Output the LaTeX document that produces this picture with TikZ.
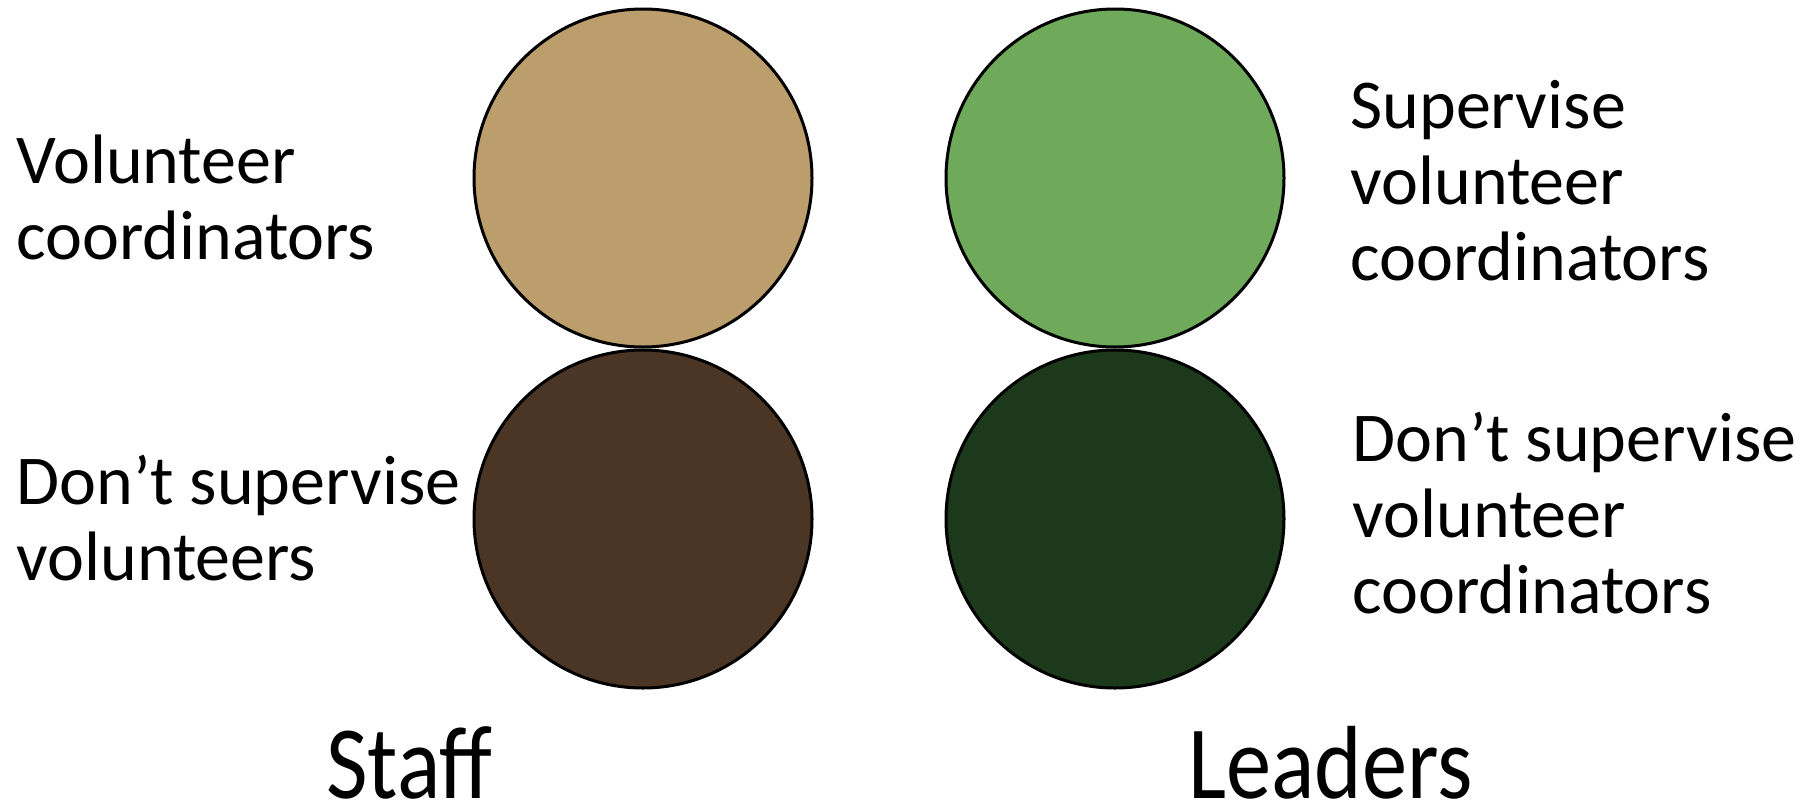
\documentclass[tikz,border=0pt]{standalone}
\usepackage{fontspec}
\setmainfont{Carlito}
\usetikzlibrary{positioning}
\definecolor{tan}{HTML}{BC9D6C}
\definecolor{brownish}{HTML}{4B3524}
\definecolor{lightgreen}{HTML}{6FA95A}
\definecolor{darkgreen}{HTML}{1C3A1B}
\tikzset{
  disc/.style={circle, draw=black, line width=1.5pt, minimum size=169pt, inner sep=0pt},
  label/.style={anchor=base west, inner sep=0pt, align=left,
    font=\fontsize{35}{38}\selectfont},
  group/.style={anchor=base west, inner sep=0pt, font=\fontsize{52}{56}\selectfont}
}
\begin{document}
\begin{tikzpicture}[x=0.5pt, y=-0.5pt]
  \useasboundingbox (0,0) rectangle (1805,804);
  % staff
  \node[disc, fill=tan] (staffvc) at (643,178) {};
  \node[disc, fill=brownish, below=0pt of staffvc] (staffno) {};
  % leaders
  \node[disc, fill=lightgreen] (leadsup) at (1115,178) {};
  \node[disc, fill=darkgreen, below=0pt of leadsup] (leadno) {};

  % labels, placed at the baseline of their last line
  \node[label] (vctext) at (16,259) {Volunteer\\coordinators};
  \node[label] (notext) at (16,580) {Don’t supervise\\volunteers};
  \node[label] (suptext) at (1350,280) {Supervise\\volunteer\\coordinators};
  \node[label] (nosuptext) at (1352,613) {Don’t supervise\\volunteer\\coordinators};

  \node[group] (staff) at (326,798) {\scalebox{0.87}[1]{Staff}};
  \node[group] (leaders) at (1188,798) {\scalebox{0.87}[1]{Leaders}};
\end{tikzpicture}
\end{document}
